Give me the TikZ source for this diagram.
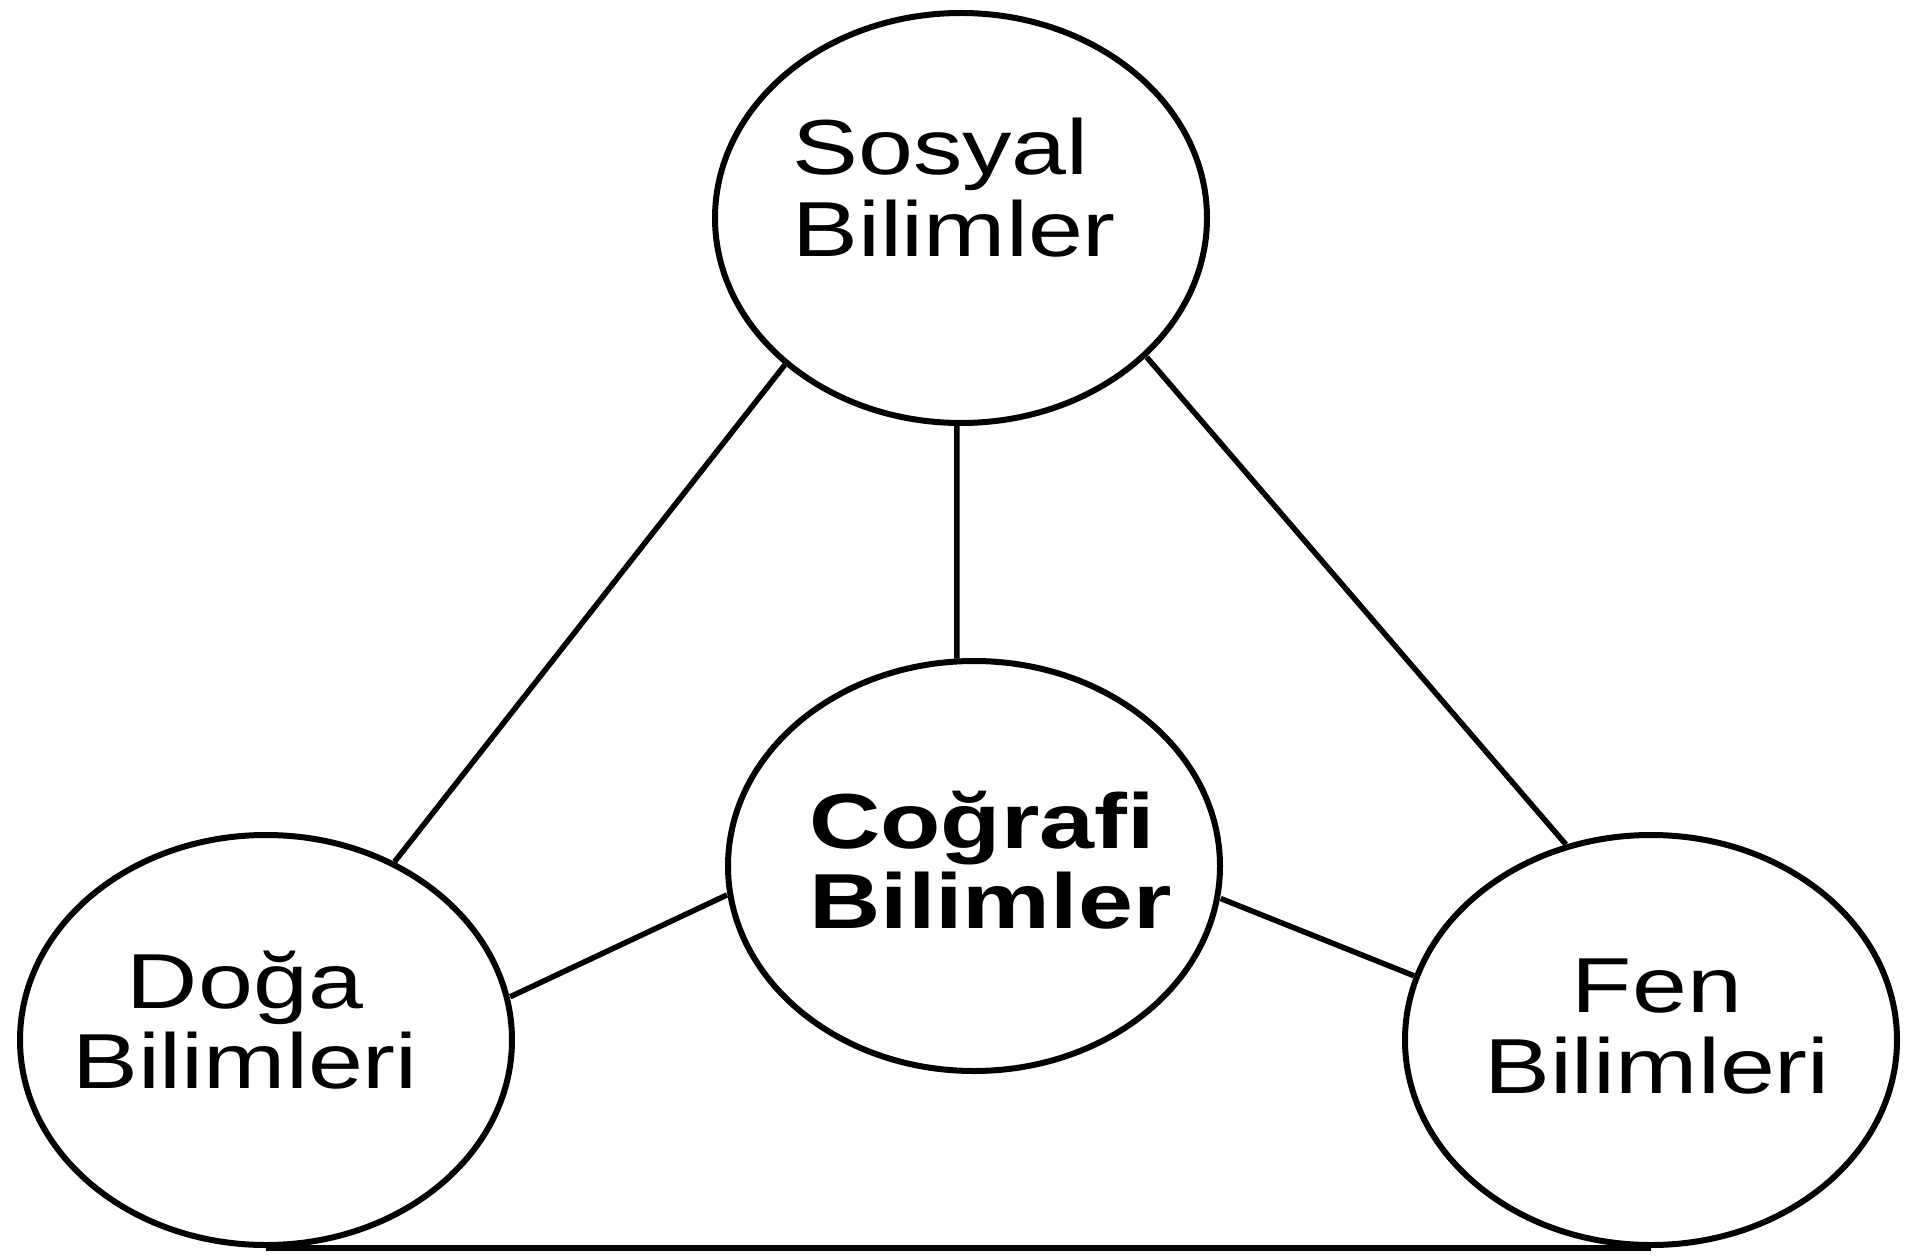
\documentclass[tikz,border=0pt]{standalone}
\usepackage{fontspec}
\setmainfont{Liberation Sans}
\begin{document}
\begin{tikzpicture}[x=1pt,y=-1pt,xscale=1.2,
  every node/.style={transform shape},
  bubble/.style={circle,draw=black,line width=6pt,minimum size=410pt,inner sep=0pt},
  label/.style={inner sep=0pt,xscale=1.055,font=\fontsize{78}{81}\selectfont},
  blabel/.style={inner sep=0pt,xscale=1.055,font=\fontsize{78}{81}\selectfont\bfseries},
  link/.style={draw=black,line width=5.5pt}]
\useasboundingbox (0,0) rectangle ({1907/1.2},1260);
\node[bubble] (sosyal) at ({961/1.2},218) {};
\node[bubble] (cografi) at ({974/1.2},866) {};
\node[bubble] (doga) at ({266/1.2},1040) {};
\node[bubble] (fen) at ({1651/1.2},1040) {};
\node[label,anchor=base west] (s1) at ({792/1.2},175) {Sosyal};
\node[label,anchor=base west] (s2) at ({792/1.2},257) {Bilimler};
\node[blabel,anchor=base west] (c1) at ({809/1.2},848) {Coğrafi};
\node[blabel,anchor=base west] (c2) at ({809/1.2},928) {Bilimler};
\node[label,anchor=base] (d1) at ({245/1.2},1008) {Doğa};
\node[label,anchor=base] (d2) at ({245/1.2},1088) {Bilimleri};
\node[label,anchor=base] (f1) at ({1657/1.2},1012) {Fen};
\node[label,anchor=base] (f2) at ({1657/1.2},1093) {Bilimleri};
\draw[link] (sosyal.225) -- (doga.59);
\draw[link] (sosyal.318) -- (fen.110);
\draw[link] (sosyal.269) -- (cografi.94);
\draw[link] (cografi.188) -- (doga.12);
\draw[link] (cografi.351) -- (fen.162);
\draw[link] (doga.south) -- (fen.south);
\end{tikzpicture}
\end{document}
